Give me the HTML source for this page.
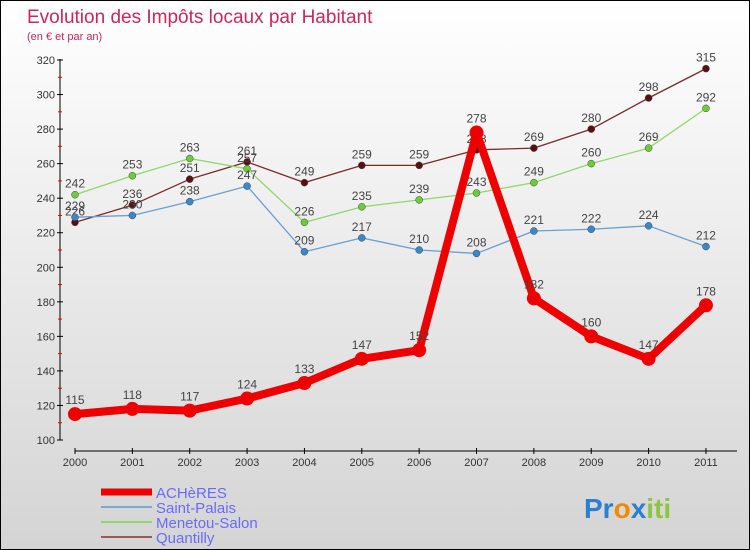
<!DOCTYPE html>
<html><head><meta charset="utf-8"><style>
html,body{margin:0;padding:0}
body{width:750px;height:550px;font-family:"Liberation Sans",sans-serif;}
#wrap{position:relative;width:748px;height:548px;border:1px solid #000;background:linear-gradient(#ffffff,#d4d4d4);overflow:hidden}
</style></head><body>
<div id="wrap">
<svg id="chart" width="748" height="548" style="position:absolute;left:0;top:0">
<text x="26" y="22" font-size="19" fill="#c8285a">Evolution des Impôts locaux par Habitant</text>
<text x="26" y="39" font-size="11" fill="#c8285a">(en € et par an)</text>
<g id="axes"></g><g id="series"></g><g id="legend"></g>
<text x="583" y="517" font-size="28" font-weight="bold"><tspan fill="#2a7fd0">Pr</tspan><tspan fill="#f08a00">o</tspan><tspan fill="#2a7fd0">x</tspan><tspan fill="#8cc63f">iti</tspan></text>
</svg>
</div>
<script>
const years=[2000,2001,2002,2003,2004,2005,2006,2007,2008,2009,2010,2011];
const yTicks=[100,120,140,160,180,200,220,240,260,280,300,320];
const acheres=[115,118,117,124,133,147,152,278,182,160,147,178];
const saintPalais=[229,230,238,247,209,217,210,208,221,222,224,212];
const menetou=[242,253,263,257,226,235,239,243,249,260,269,292];
const quantilly=[226,236,251,261,249,259,259,268,269,280,298,315];
const NS="http://www.w3.org/2000/svg";
const xs=i=>74+i*57.36;
const ys=v=>439-(v-100)*(380/220);
function mk(tag,attrs,parent){const e=document.createElementNS(NS,tag);for(const k in attrs)e.setAttribute(k,attrs[k]);parent.appendChild(e);return e;}
const axes=document.getElementById('axes');
let yl=mk('line',{x1:59,y1:58,x2:59,y2:439,stroke:'#000'},axes);


yTicks.forEach(v=>{
 mk('line',{x1:56,y1:ys(v),x2:62,y2:ys(v),stroke:'#000'},axes);
 const t=mk('text',{x:54,y:ys(v)+4,'font-size':11,fill:'#333','text-anchor':'end'},axes);
 t.textContent=v;
 
 
 if(v<320) mk('line',{x1:57,y1:ys(v+10),x2:61,y2:ys(v+10),stroke:'#e00'},axes);
});
let xl=mk('line',{x1:74,y1:450,x2:736,y2:450,stroke:'#000'},axes);


years.forEach((y,i)=>{
 mk('line',{x1:xs(i),y1:447,x2:xs(i),y2:453,stroke:'#000'},axes);
 const t=mk('text',{x:xs(i),y:465,'font-size':11,fill:'#333','text-anchor':'middle'},axes);
 t.textContent=y;
 
 
});
const series=[
 {name:'quantilly',data:quantilly,color:'#7a2a2a',dot:'#5a1010',w:1.3,r:3.5},
 {name:'menetou-salon',data:menetou,color:'#8fd86a',dot:'#6ccc3a',w:1.3,r:3.5},
 {name:'saint-palais',data:saintPalais,color:'#6a9fd0',dot:'#3a88cc',w:1.3,r:3.5},
 {name:'acheres',data:acheres,color:'#ee0000',dot:'#ee0000',w:8,r:7}
];
const sg=document.getElementById('series');
series.forEach(s=>{
 const g=mk('g',{},sg);
 
 
 const p=mk('polyline',{points:s.data.map((v,i)=>xs(i)+','+ys(v)).join(' '),fill:'none',stroke:s.color,'stroke-width':s.w,'stroke-linejoin':'round'},g);
 
 
 s.data.forEach((v,i)=>{
  const c=mk('circle',{cx:xs(i),cy:ys(v),r:s.r,fill:s.dot,stroke:'#444','stroke-width':s.w>2?0:0.5},g);
  
  
  const t=mk('text',{x:xs(i),y:ys(v)-(s.w>2?10:7),'font-size':12,fill:'#444','text-anchor':'middle'},g);
  t.textContent=v;
  
  
 });
});
const lg=document.getElementById('legend');
const leg=[['ACHèRES','#ee0000',7],['Saint-Palais','#7aaad0',2],['Menetou-Salon','#8fd86a',2],['Quantilly','#9a5a5a',2]];
leg.forEach((l,i)=>{
 const y=491+i*15;
 const ln=mk('line',{x1:100,y1:y,x2:151,y2:y,stroke:l[1],'stroke-width':l[2]},lg);
 
 
 const t=mk('text',{x:155,y:y+6,'font-size':15,fill:'#6a6aff'},lg);
 t.textContent=l[0];
 
 
});
</script>
</body></html>
